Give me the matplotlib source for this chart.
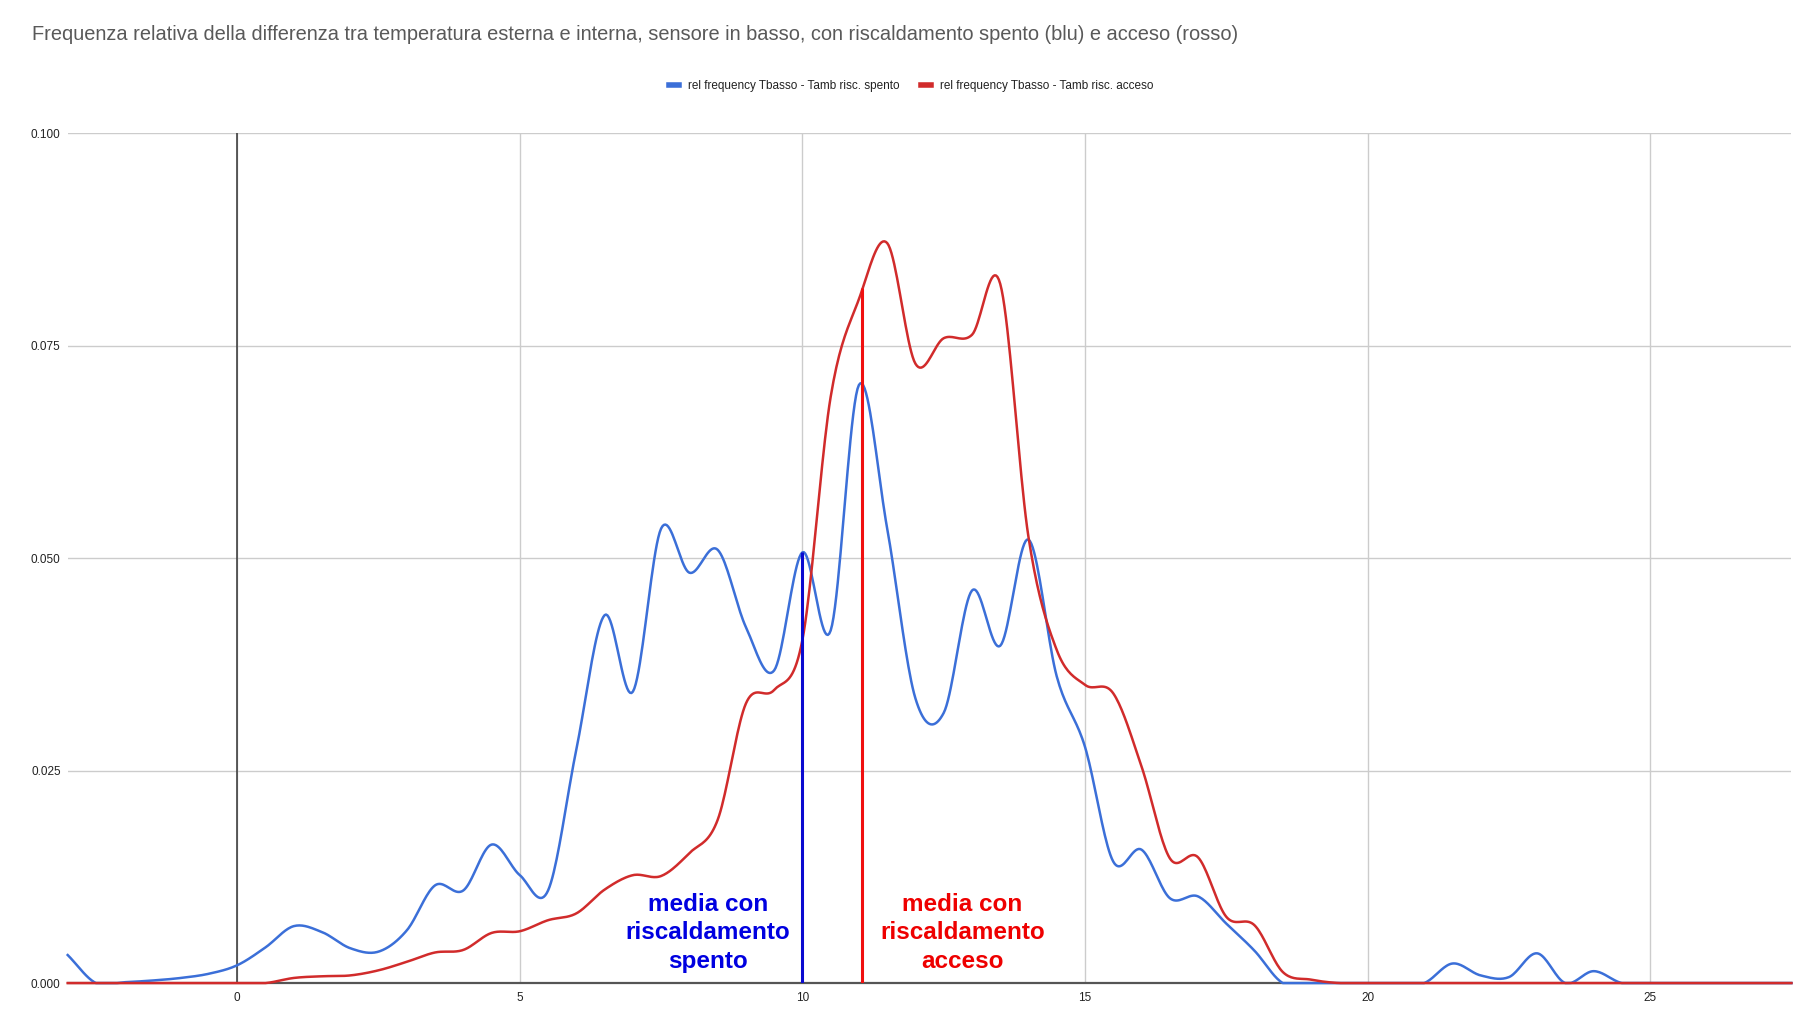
import numpy as np
import matplotlib
matplotlib.use("Agg")
import matplotlib.pyplot as plt
from matplotlib.lines import Line2D

plt.rcParams["font.family"] = ["Liberation Sans", "DejaVu Sans"]

TITLE = ("Frequenza relativa della differenza tra temperatura esterna e interna, "
         "sensore in basso, con riscaldamento spento (blu) e acceso (rosso)")
LABEL_SPENTO = "rel frequency Tbasso - Tamb risc. spento"
LABEL_ACCESO = "rel frequency Tbasso - Tamb risc. acceso"

# differenza di temperatura (passo 0.5)
delta_t = np.arange(-3.0, 28.0, 0.5)

freq_spento = [
    0.0033, 0.0, 0.0001, 0.0003, 0.0006, 0.0011, 0.0021, 0.0042, 0.0067, 0.0060,
    0.0041, 0.0037, 0.0062, 0.0115, 0.0109, 0.0163, 0.0127, 0.0109, 0.0275, 0.0433,
    0.0343, 0.0535, 0.0483, 0.0510, 0.0419, 0.0368, 0.0507, 0.0415, 0.0704, 0.0535,
    0.0335, 0.0318, 0.0462, 0.0397, 0.0522, 0.0361, 0.0278, 0.0143, 0.0157, 0.0100,
    0.0102, 0.0070, 0.0038, 0.0, 0.0, 0.0, 0.0, 0.0, 0.0, 0.0023,
    0.0009, 0.0007, 0.0035, 0.0, 0.0014, 0.0, 0.0, 0.0, 0.0, 0.0,
    0.0, 0.0,
]
freq_acceso = [
    0.0, 0.0, 0.0, 0.0, 0.0, 0.0, 0.0, 0.0, 0.0006, 0.0008,
    0.0009, 0.0015, 0.0025, 0.0036, 0.0039, 0.0059, 0.0061, 0.0074, 0.0082, 0.0110,
    0.0127, 0.0126, 0.0153, 0.0192, 0.0329, 0.0345, 0.0404, 0.0690, 0.0805, 0.0871,
    0.0729, 0.0759, 0.0763, 0.0823, 0.0525, 0.0392, 0.0351, 0.0341, 0.0255, 0.0147,
    0.0148, 0.0078, 0.0068, 0.0013, 0.0004, 0.0, 0.0, 0.0, 0.0, 0.0,
    0.0, 0.0, 0.0, 0.0, 0.0, 0.0, 0.0, 0.0, 0.0, 0.0,
    0.0, 0.0,
]

# medie (linee verticali) e loro altezza
mean_spento, top_spento = 10.0, 0.0507
mean_acceso, top_acceso = 11.05, 0.0818

BLUE = "#3b6fd8"
RED = "#d12b2b"


def smooth(x, y, n=20):
    # curva liscia tipo "function" di Google Sheets (Catmull-Rom)
    x = np.asarray(x, float)
    y = np.asarray(y, float)
    m = np.gradient(y, x)
    xs, ys = [], []
    for i in range(len(x) - 1):
        h = x[i + 1] - x[i]
        t = np.linspace(0, 1, n, endpoint=False)
        h00 = 2 * t**3 - 3 * t**2 + 1
        h10 = t**3 - 2 * t**2 + t
        h01 = -2 * t**3 + 3 * t**2
        h11 = t**3 - t**2
        xs.append(x[i] + t * h)
        ys.append(h00 * y[i] + h10 * h * m[i] + h01 * y[i + 1] + h11 * h * m[i + 1])
    xs.append([x[-1]])
    ys.append([y[-1]])
    return np.concatenate(xs), np.maximum(np.concatenate(ys), 0)


fig = plt.figure(figsize=(18.05, 10.22), dpi=100)
ax = fig.add_axes([0.0375, 0.0381, 0.955, 0.8313])

ax.set_xlim(-3, 27.5)
ax.set_ylim(0, 0.1)
ax.set_xticks(range(0, 26, 5))
ax.set_yticks([0, 0.025, 0.05, 0.075, 0.1])
ax.set_yticklabels([f"{v:.3f}" for v in ax.get_yticks()])
ax.grid(True, color="#cccccc", lw=1)
ax.set_axisbelow(True)
for s in ax.spines.values():
    s.set_visible(False)
ax.tick_params(length=0, labelsize=8.5, colors="#222222")
ax.tick_params(axis="y", pad=5)
ax.tick_params(axis="x", pad=6.5)
ax.axvline(0, color="#333333", lw=1.1, zorder=1)
ax.axhline(0, color="#555555", lw=1.6, zorder=1, clip_on=False)

xb, yb = smooth(delta_t, freq_spento)
xr, yr = smooth(delta_t, freq_acceso)
ax.plot(xb, yb, color=BLUE, lw=1.8, zorder=3, clip_on=False)
ax.plot(xr, yr, color=RED, lw=1.8, zorder=4, clip_on=False)

ax.vlines(mean_spento, 0, top_spento, color="#0a0ad0", lw=2.2, zorder=5)
ax.vlines(mean_acceso, 0, top_acceso, color="#f01010", lw=2.2, zorder=5)

ax.text(8.33, 0.0059, "media con\nriscaldamento\nspento", ha="center", va="center",
        fontsize=17.5, fontweight="bold", color="#0000e0", linespacing=1.32)
ax.text(12.83, 0.0059, "media con\nriscaldamento\nacceso", ha="center", va="center",
        fontsize=17.5, fontweight="bold", color="#ee0000", linespacing=1.32)

fig.text(0.0178, 0.966, TITLE, ha="left", va="center", fontsize=14.4, color="#595959")

handles = [Line2D([], [], color=BLUE, lw=4), Line2D([], [], color=RED, lw=4)]
fig.legend(handles, [LABEL_SPENTO, LABEL_ACCESO], loc="center", bbox_to_anchor=(0.505, 0.916),
           ncol=2, frameon=False, fontsize=8.5, handlelength=0.8, handletextpad=0.8,
           columnspacing=1.8, labelcolor="#222222")

fig.savefig("out.png", dpi=100)
